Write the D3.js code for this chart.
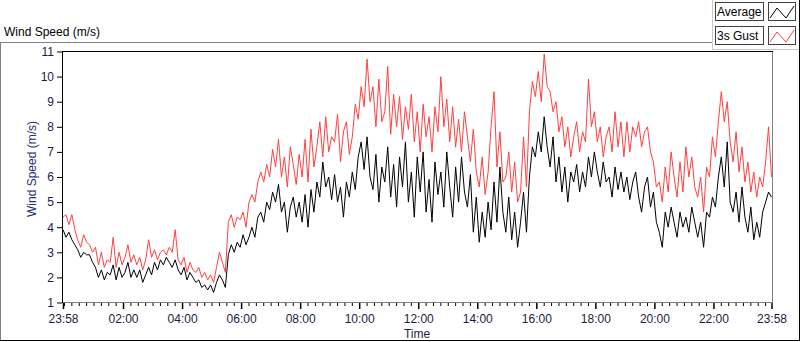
<!DOCTYPE html>
<html><head><meta charset="utf-8">
<script src="https://cdn.jsdelivr.net/npm/d3@7/dist/d3.min.js"></script>
<style>body{margin:0;background:#fff}svg{display:block}text{font-family:"Liberation Sans",Arial,sans-serif}</style>
</head><body><svg id="c" width="800" height="342"></svg>
<script>
const seriesNames = ["Average", "3s Gust"];
const yTicks = [1,2,3,4,5,6,7,8,9,10,11];
const xTickLabels = ["23:58","02:00","04:00","06:00","08:00","10:00","12:00","14:00","16:00","18:00","20:00","22:00","23:58"];
const startTime = "2020-01-01T23:58";
const spanMinutes = 1440;
const average = [
3.9,3.6,3.8,3.5,3.3, 3.1,2.8,3.0,2.9, 2.9,2.6, 2.4,2.0,2.3,1.9,2.2, 2.1,2.5,1.9,2.4,2.0,
2.2,2.6,2.0,2.3, 2.0,2.3,1.8,2.1,2.4, 2.1,2.6,2.3,2.7, 2.5,2.8,2.6,2.4,2.7,
2.3,2.1,2.4,1.9,2.2,2.0, 1.8,1.9,1.6,1.7, 1.5,1.7,1.4, 1.8,2.1,1.9,1.6,
2.9,3.3,3.0,3.4, 3.2,3.7,3.3,3.6, 4.0,3.6,4.4, 4.6,4.2,5.0,4.7, 5.4,5.0,5.7,
4.6,5.0,3.8,4.8, 5.2,4.4,5.0,4.2, 5.3,4.0,5.5,4.6, 5.8,5.2,6.6,5.6,6.0,5.1,
6.1,5.0,5.6,4.4,5.8,5.2, 6.2,5.5,6.8,7.4, 6.3,7.6,6.0, 5.5,6.9,5.0,6.4,
5.8,7.2,5.2,6.5, 4.8,6.8,5.6,7.4,5.0, 6.2,4.4,6.8,5.4,7.0, 4.6,5.9,4.2,6.6,5.3,
6.2,4.8,7.0, 5.6,4.4,6.4,5.0,6.8,5.4, 4.8,6.1,3.8,5.2, 3.4,4.6,3.6,5.0,3.9,
5.8,4.2,6.4,4.6, 3.8,5.2,3.5,4.6,3.2, 4.2,5.4,3.8, 6.0,7.2,6.8, 7.8,7.0,8.4,7.2,
6.4,7.6,5.8,6.8, 5.4,6.4,5.0,6.2, 5.8,6.5,5.4,6.2, 5.6,6.8,6.0,7.0, 6.2,5.6,6.6,5.8,
6.0,5.2,6.4,5.5,6.2, 5.4,6.0,5.1,5.8, 6.2,5.2,4.6,5.6, 6.0,4.8,5.4,4.2, 3.8,3.2,4.6,4.0,
4.8,4.2,3.6,4.6,4.0, 4.4,3.8,4.8,4.2, 3.6,4.2,3.2,4.6, 4.4,5.2,4.8,6.0, 6.8,5.6,7.4,5.0,
4.6,5.4,4.2,5.6, 4.4,3.8,4.8,3.5, 4.2,3.6,4.6, 5.0,5.4,5.2];
const gust = [
4.4,4.5,4.1,4.5,3.9, 3.5,3.2,3.7,3.4, 3.3,3.0, 3.2,2.5,3.0,2.4,2.7, 2.6,3.6,2.4,3.0,2.5,
2.8,3.3,2.6,2.9, 2.5,2.8,2.3,2.7,3.5, 2.8,3.1,2.7,3.0, 3.1,2.9,3.2,3.0,3.9,
2.7,2.5,2.8,2.2,2.6,2.3, 2.2,2.4,2.0,2.2, 1.9,2.1,1.8, 2.4,3.0,2.6,2.2,
4.2,4.5,4.0,4.4, 4.3,4.6,4.0,5.0, 5.3,5.0,5.8, 6.2,5.8,6.5,6.0, 7.1,6.4,7.5,
6.0,6.8,5.6,7.2, 6.5,5.7,6.9,6.0, 7.5,5.8,7.9,6.4, 7.2,8.2,6.8,8.4,7.0,7.6,
7.4,8.5,6.6,7.8,8.2,6.9, 7.6,8.9,8.3,9.6, 8.8,10.7,9.0, 9.6,8.0,9.9,8.2,
8.6,10.4,7.7,9.3, 8.0,9.2,7.5,8.8,7.9, 9.3,7.4,8.6,7.0,8.9, 7.6,8.4,7.0,8.8,7.8,
10.0,8.0,9.1, 7.4,8.8,7.2,8.3,7.0,8.6, 7.6,6.6,7.9,6.2, 5.6,6.8,5.3,6.2,8.0,
9.4,6.4,7.8,5.8, 6.0,7.0,5.4,6.6,5.0, 5.4,7.6,5.6, 8.6,9.8,9.2, 10.2,9.0,10.9,9.6,
9.4,8.6,9.0,7.8, 8.4,7.2,8.0,6.8, 7.6,8.2,7.0,7.8, 7.4,9.9,8.0,8.6, 7.4,8.0,6.8,7.6,
8.0,7.0,8.6,7.2,8.2, 6.8,8.2,7.0,8.0, 7.6,8.2,7.2,7.8, 8.0,7.0,6.6,5.6, 5.8,5.0,6.4,5.4,
7.0,6.0,5.2,6.6,5.4, 7.2,6.0,6.8,5.6, 5.2,6.0,4.6,6.4, 6.0,7.6,6.8,8.2, 9.4,8.2,9.0,7.4,
6.6,7.8,6.2,7.2, 5.8,6.6,5.4,6.2, 5.2,6.0,5.6, 6.6,8.0,6.0];

const svg = d3.select("#c");
const W = 800, H = 342;
const t0 = new Date(startTime);
const t1 = d3.timeMinute.offset(t0, spanMinutes);
const x = d3.scaleTime().domain([t0, t1]).range([63, 771.5]);
const y = d3.scaleLinear().domain([1, 11]).range([302.5, 51.5]);
const fmt = d3.timeFormat("%H:%M");

// outer panel frame
svg.append("rect").attr("width", W).attr("height", H).attr("fill", "#fff");
svg.append("line").attr("x1",0).attr("x2",712).attr("y1",42.5).attr("y2",42.5).attr("stroke","#808080");
svg.append("line").attr("x1",0.5).attr("x2",0.5).attr("y1",42).attr("y2",341).attr("stroke","#808080");
svg.append("line").attr("x1",0).attr("x2",800).attr("y1",340.5).attr("y2",340.5).attr("stroke","#000");
svg.append("line").attr("x1",799.5).attr("x2",799.5).attr("y1",0).attr("y2",341).attr("stroke","#000");
svg.append("line").attr("x1",712.5).attr("x2",712.5).attr("y1",0).attr("y2",49).attr("stroke","#c8c8c8");
svg.append("line").attr("x1",712).attr("x2",799).attr("y1",49.5).attr("y2",49.5).attr("stroke","#c8c8c8");

svg.append("text").attr("x",4).attr("y",36).attr("font-size",12).attr("fill","#000").text("Wind Speed (m/s)");

// plot frame
const g = svg.append("g");
g.append("line").attr("x1",772.5).attr("x2",772.5).attr("y1",51).attr("y2",303).attr("stroke","#808080");
g.append("line").attr("x1",62).attr("x2",773).attr("y1",302.5).attr("y2",302.5).attr("stroke","#808080");
g.append("line").attr("x1",62).attr("x2",773).attr("y1",51.5).attr("y2",51.5).attr("stroke","#000");
g.append("line").attr("x1",62.5).attr("x2",62.5).attr("y1",51).attr("y2",303).attr("stroke","#000");

// y axis
const yAxis = d3.axisLeft(y).tickValues(yTicks).tickSize(5).tickPadding(3).tickFormat(d3.format("d"));
const ya = svg.append("g").attr("transform","translate(62,0)").call(yAxis);
ya.select(".domain").remove();
ya.selectAll("text").attr("font-size",12).attr("fill","#1c1c44").attr("font-family","Liberation Sans, Arial, sans-serif");
ya.selectAll("line").attr("stroke","#000");

// x axis
const majorTimes = xTickLabels.map((s,i)=> i===0 ? t0 : (i===xTickLabels.length-1 ? t1 : (()=>{const [h,m]=s.split(":").map(Number); const d=new Date(t0); d.setDate(d.getDate()+1); d.setHours(h,m,0,0); return d;})()));
const minorTimes = d3.timeMinute.every(15).range(d3.timeMinute.offset(t0,1), t1).filter(t=>!majorTimes.some(m=>+m===+t));
const xa = svg.append("g").attr("transform","translate(0,303)");
xa.call(d3.axisBottom(x).tickValues(minorTimes).tickSize(3).tickFormat(""));
xa.select(".domain").remove();
xa.selectAll("line").attr("stroke","#000");
const xb = svg.append("g").attr("transform","translate(0,303)");
xb.call(d3.axisBottom(x).tickValues(majorTimes).tickSize(6).tickPadding(5).tickFormat((d,i)=>xTickLabels[i]));
xb.select(".domain").remove();
xb.selectAll("line").attr("stroke","#000").attr("stroke-width",1.5);
xb.selectAll("text").attr("font-size",12).attr("fill","#1c1c44").attr("font-family","Liberation Sans, Arial, sans-serif");

svg.append("text").attr("x",417).attr("y",338).attr("text-anchor","middle").attr("font-size",12).attr("fill","#1c1c44").text("Time");
svg.append("text").attr("transform","translate(36,169) rotate(-90)").attr("text-anchor","middle").attr("font-size",12).attr("fill","#1f3070").text("Wind Speed (m/s)");

// data lines
svg.append("clipPath").attr("id","clip").append("rect").attr("x",63).attr("y",52).attr("width",709).attr("height",250);
const mk = arr => arr.map((v,i)=>({t: new Date(+t0 + i*(spanMinutes/(arr.length-1))*60000), v}));
const line = d3.line().x(d=>x(d.t)).y(d=>y(d.v));
const plot = svg.append("g").attr("clip-path","url(#clip)");
plot.append("path").datum(mk(gust)).attr("d",line).attr("fill","none").attr("stroke","#ff4040").attr("stroke-width",1);
plot.append("path").datum(mk(average)).attr("d",line).attr("fill","none").attr("stroke","#000").attr("stroke-width",1);

// legend
const legendColors = ["#000", "#ff4040"];
seriesNames.forEach((name,i)=>{
  const ly = 2 + i*24;
  svg.append("rect").attr("x",715.5).attr("y",ly+0.5).attr("width",48).attr("height",18).attr("fill","#fff").attr("stroke","#404040");
  svg.append("text").attr("x",717).attr("y",ly+14).attr("font-size",12).attr("fill","#000").text(name);
  svg.append("rect").attr("x",768.5).attr("y",ly+0.5).attr("width",27).attr("height",18).attr("fill","#fff").attr("stroke","#404040");
  const pts = [[770,ly+16],[777,ly+6],[786,ly+16],[794,ly+4]];
  svg.append("path").attr("d",d3.line()(pts)).attr("fill","none").attr("stroke",legendColors[i]);
});
</script></body></html>
